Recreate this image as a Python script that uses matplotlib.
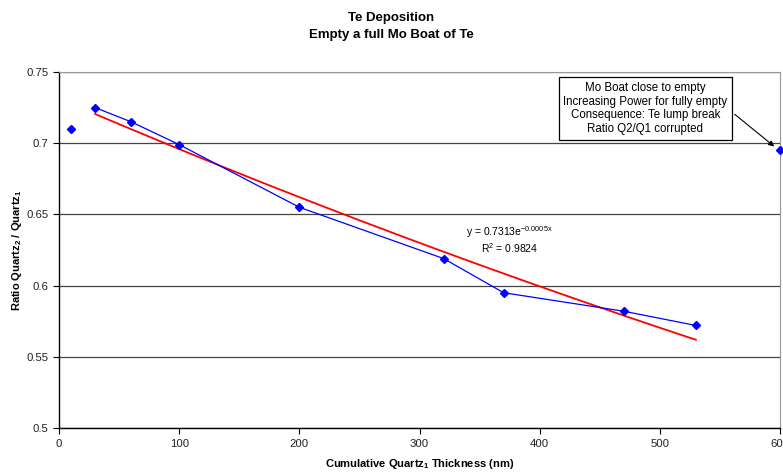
import matplotlib
matplotlib.use("Agg")
import matplotlib.pyplot as plt
import numpy as np

plt.rcParams['font.family'] = ['Liberation Sans', 'DejaVu Sans']
plt.rcParams['mathtext.fontset'] = 'custom'
plt.rcParams['mathtext.rm'] = 'Liberation Sans'
plt.rcParams['mathtext.it'] = 'Liberation Sans'
plt.rcParams['mathtext.bf'] = 'Liberation Sans:bold'

# data
thickness = [10, 30, 60, 100, 200, 320, 370, 470, 530, 600]
ratio = [0.710, 0.725, 0.715, 0.699, 0.655, 0.619, 0.595, 0.582, 0.572, 0.695]

# points used for the connected series and the trend line
fit_x = np.array(thickness[1:9])
fit_y = np.array(ratio[1:9])

fig = plt.figure(figsize=(7.83, 4.73), dpi=100)
ax = fig.add_axes([0.0754, 0.0951, 0.9208, 0.7527])

# exponential trend line fitted to the series
b, log_a = np.polyfit(fit_x, np.log(fit_y), 1)
trend_x = np.linspace(fit_x[0], fit_x[-1], 50)
ax.plot(trend_x, np.exp(log_a) * np.exp(b * trend_x), color='red', lw=1.3, zorder=3)

ax.plot(fit_x, fit_y, color='blue', lw=0.9, zorder=4)
ax.plot(thickness, ratio, linestyle='none', marker='D', ms=3.8, color='blue', zorder=5, clip_on=False)

ax.set_xlim(0, 600)
ax.set_ylim(0.5, 0.75)
ax.set_xticks([0, 100, 200, 300, 400, 500, 600])
ax.set_yticks([0.5, 0.55, 0.6, 0.65, 0.7, 0.75])
ax.set_yticklabels(['0.5', '0.55', '0.6', '0.65', '0.7', '0.75'])
ax.tick_params(labelsize=8.2, length=4, width=0.8, colors='black', labelcolor='#222222')
ax.tick_params(axis='x', pad=4)
ax.yaxis.grid(True, color='#444444', lw=0.9)
ax.set_axisbelow(True)
for side in ['top', 'right']:
    ax.spines[side].set_color('#999999')
for side in ['left', 'bottom']:
    ax.spines[side].set_color('black')
    ax.spines[side].set_linewidth(1.0)

ax.set_xlabel('Cumulative Quartz$_\\mathbf{1}$ Thickness (nm)', fontsize=8, fontweight='bold', labelpad=6)
ax.set_ylabel('Ratio Quartz$_\\mathbf{2}$ / Quartz$_\\mathbf{1}$', fontsize=8, fontweight='bold', labelpad=2)
fig.suptitle('Te Deposition\nEmpty a full Mo Boat of Te', fontsize=9.5, fontweight='bold',
             y=0.974, linespacing=1.5)

ax.text(375, 0.6376, 'y = 0.7313e$^{-0.0005x}$', fontsize=7.5, ha='center', va='center')
ax.text(375, 0.6262, 'R$^2$ = 0.9824', fontsize=7.5, ha='center', va='center')

ax.annotate('Mo Boat close to empty\nIncreasing Power for fully empty\nConsequence: Te lump break\nRatio Q2/Q1 corrupted',
            xy=(597, 0.6965), xytext=(488, 0.7244), fontsize=8.3, ha='center', va='center',
            linespacing=1.2,
            bbox=dict(boxstyle='square,pad=0.4', fc='white', ec='black', lw=0.9),
            arrowprops=dict(arrowstyle='-|>', color='black', lw=0.8, mutation_scale=8,
                            relpos=(1.0, 0.5)))

fig.savefig('out.png', dpi=100)
